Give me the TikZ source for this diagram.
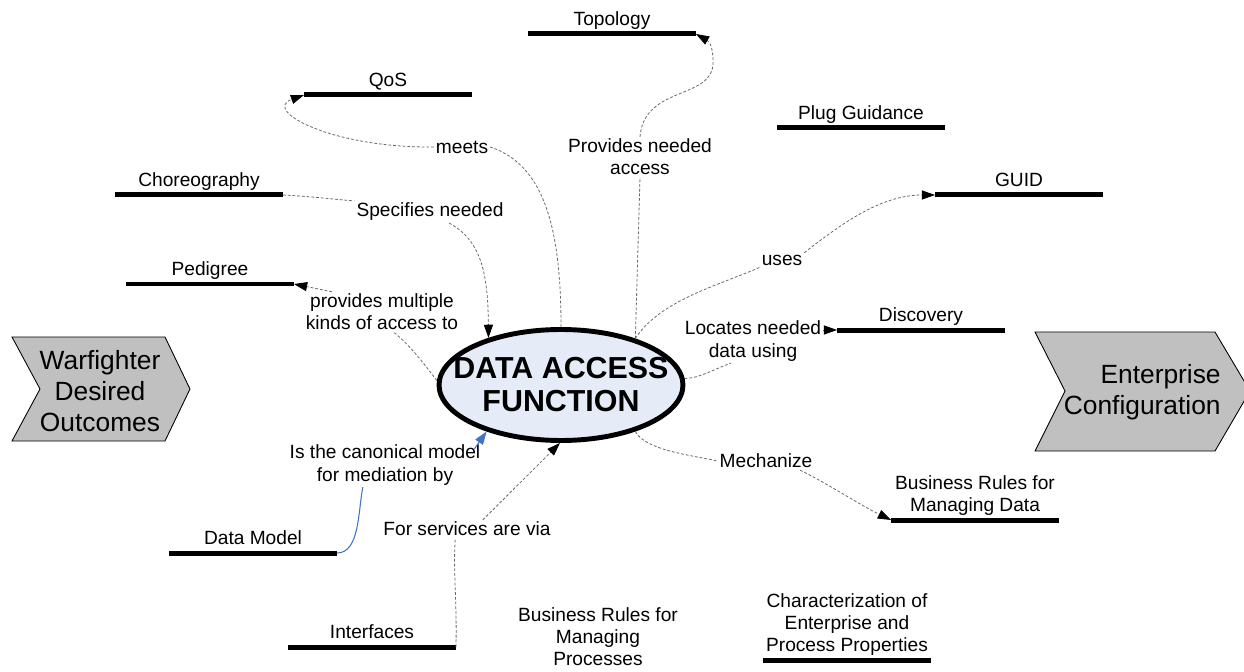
\documentclass[tikz,border=0pt]{standalone}
\usepackage{fontspec}
\setmainfont{Liberation Sans}
\usetikzlibrary{arrows.meta,shapes.geometric,calc}

\definecolor{chevgray}{RGB}{192,192,192}
\definecolor{dafblue}{RGB}{230,236,247}
\definecolor{linkblue}{RGB}{68,114,196}
\definecolor{linkgray}{RGB}{105,105,105}

\tikzset{
  itemfont/.style={font=\fontsize{10.9}{12.6}\selectfont},
  bar/.style={rectangle, fill=black, minimum width=3.36cm, minimum height=0.1cm,
              inner sep=0pt, outer sep=0pt},
  itemtext/.style={itemfont, align=center, inner sep=1pt, text depth=0.22em},
  lbl/.style={itemfont, align=center, inner sep=1pt},
  link/.style={draw=linkgray, line width=0.45pt, dash pattern=on 1.6pt off 1.1pt},
  arrowed/.style={link, -{Triangle[length=7.5pt,width=5.2pt,color=black]}},
  bluelink/.style={draw=linkblue, line width=0.6pt},
  bluearrow/.style={bluelink, -{Triangle[length=7.5pt,width=5.2pt,color=linkblue]}},
  chevron/.style={draw=black, line width=0.5pt, fill=chevgray},
  chevtext/.style={font=\fontsize{15}{17.6}\selectfont, align=center, inner sep=0pt},
  hub/.style={ellipse, draw=black, line width=2.8pt, fill=dafblue,
              minimum width=4.88cm, minimum height=2.22cm, inner xsep=-18pt, inner ysep=-2pt,
              font=\bfseries\fontsize{17.3}{18.8}\selectfont, align=center},
}

\begin{document}
\begin{tikzpicture}[x=0.02cm, y=-0.02cm]
  \fill[white] (0,0) rectangle (1244,672);
  \useasboundingbox (0,0) rectangle (1244,672);

  % side chevrons
  \draw[chevron] (12,337) -- (165,337) -- (190,389) -- (165,441) -- (12,441) -- (40,389) -- cycle;
  \node[chevtext] (wdo) at (100,391) {Warfighter\\Desired\\Outcomes};
  \draw[chevron] (1035,332) -- (1215,332) -- (1250,391) -- (1215,451) -- (1035,451) -- (1065,391) -- cycle;
  \node[chevtext, align=right, anchor=east] (ec) at (1221,392) {Enterprise\\Configuration};

  % central function
  \node[hub] (daf) at (561,385) {DATA ACCESS\\FUNCTION};

  % concept bars with their titles
  \node[bar, label={[itemtext]above:Topology}] (topo) at (612,34) {};
  \node[bar, label={[itemtext]above:QoS}] (qos) at (388,95) {};
  \node[bar, label={[itemtext]above:Plug Guidance}] (plug) at (861,128) {};
  \node[bar, label={[itemtext]above:Choreography}] (chor) at (199,195) {};
  \node[bar, label={[itemtext]above:GUID}] (guid) at (1019,195) {};
  \node[bar, label={[itemtext]above:Pedigree}] (ped) at (210,284) {};
  \node[bar, label={[itemtext]above:Discovery}] (disc) at (921,330) {};
  \node[bar, label={[itemtext]above:{Business Rules for\\Managing Data}}] (bizd) at (975,520) {};
  \node[bar, label={[itemtext]above:Data Model}] (dm) at (253,553) {};
  \node[bar, label={[itemtext]above:Interfaces}] (interf) at (372,647) {};
  \node[bar, label={[itemtext]above:{Characterization of\\Enterprise and\\Process Properties}}] (charz) at (847,660) {};
  \node[lbl] (bizp) at (598,637) {Business Rules for\\Managing\\Processes};

  % relation labels
  \node[lbl] (meets) at (462,147) {meets};
  \node[lbl] (pna) at (640,157) {Provides needed\\access};
  \node[lbl] (spec) at (430,212) {Specifies needed};
  \node[lbl] (pmk) at (382,312) {provides multiple\\kinds of access to};
  \node[lbl] (uses) at (782,260) {uses};
  \node[lbl] (loc) at (753,341) {Locates needed\\data using};
  \node[lbl] (mech) at (766,461) {Mechanize};
  \node[lbl] (canon) at (385,465) {Is the canonical model\\for mediation by};
  \node[lbl] (fsv) at (467,529) {For services are via};

  % meets -> QoS
  \draw[link] (daf.90) .. controls (561,230) and (545,165) .. (meets.east);
  \draw[arrowed] (meets.west) .. controls (330,148) and (262,110) .. (qos.west);

  % provides needed access -> Topology
  \draw[link] (daf.32) -- (pna.south);
  \draw[arrowed] (pna.north) .. controls (644,85) and (714,100) .. (713,62)
                 .. controls (713,48) and (710,42) .. (topo.east);

  % Choreography specifies needed
  \draw[link] (chor.east) to[out=-3, in=175] (spec.north west);
  \draw[arrowed] (spec.-30) .. controls (480,240) and (488,270) .. (daf.147);

  % provides multiple kinds of access to -> Pedigree
  \draw[link] (daf.178) .. controls (425,365) and (410,345) .. (pmk.-60);
  \draw[arrowed] (pmk.158) -- (ped.east);

  % uses -> GUID
  \draw[link] (daf.32) .. controls (660,300) and (720,285) .. (uses.south west);
  \draw[arrowed] (uses.north east) .. controls (840,225) and (880,195) .. (guid.west);

  % locates needed data using -> Discovery
  \draw[link] (daf.3) .. controls (700,378) and (712,370) .. (loc.-135);
  \draw[arrowed] (loc.east |- disc.west) -- (disc.west);

  % mechanize -> business rules for managing data
  \draw[link] (daf.-32) .. controls (645,450) and (690,455) .. (mech.west);
  \draw[arrowed] (mech.-15) .. controls (830,485) and (860,505) .. (bizd.west);

  % Data Model is the canonical model for mediation
  \draw[bluelink] (dm.east) .. controls (360,553) and (358,510) .. (canon.-135);
  \draw[bluearrow] ($(canon.north east)+(-8,6)$) -- (daf.-148);

  % Interfaces: services are via
  \draw[link] (interf.east) .. controls (457,600) and (453,570) .. (fsv.-142);
  \draw[arrowed] (fsv.30) -- (daf.-91);
\end{tikzpicture}
\end{document}
